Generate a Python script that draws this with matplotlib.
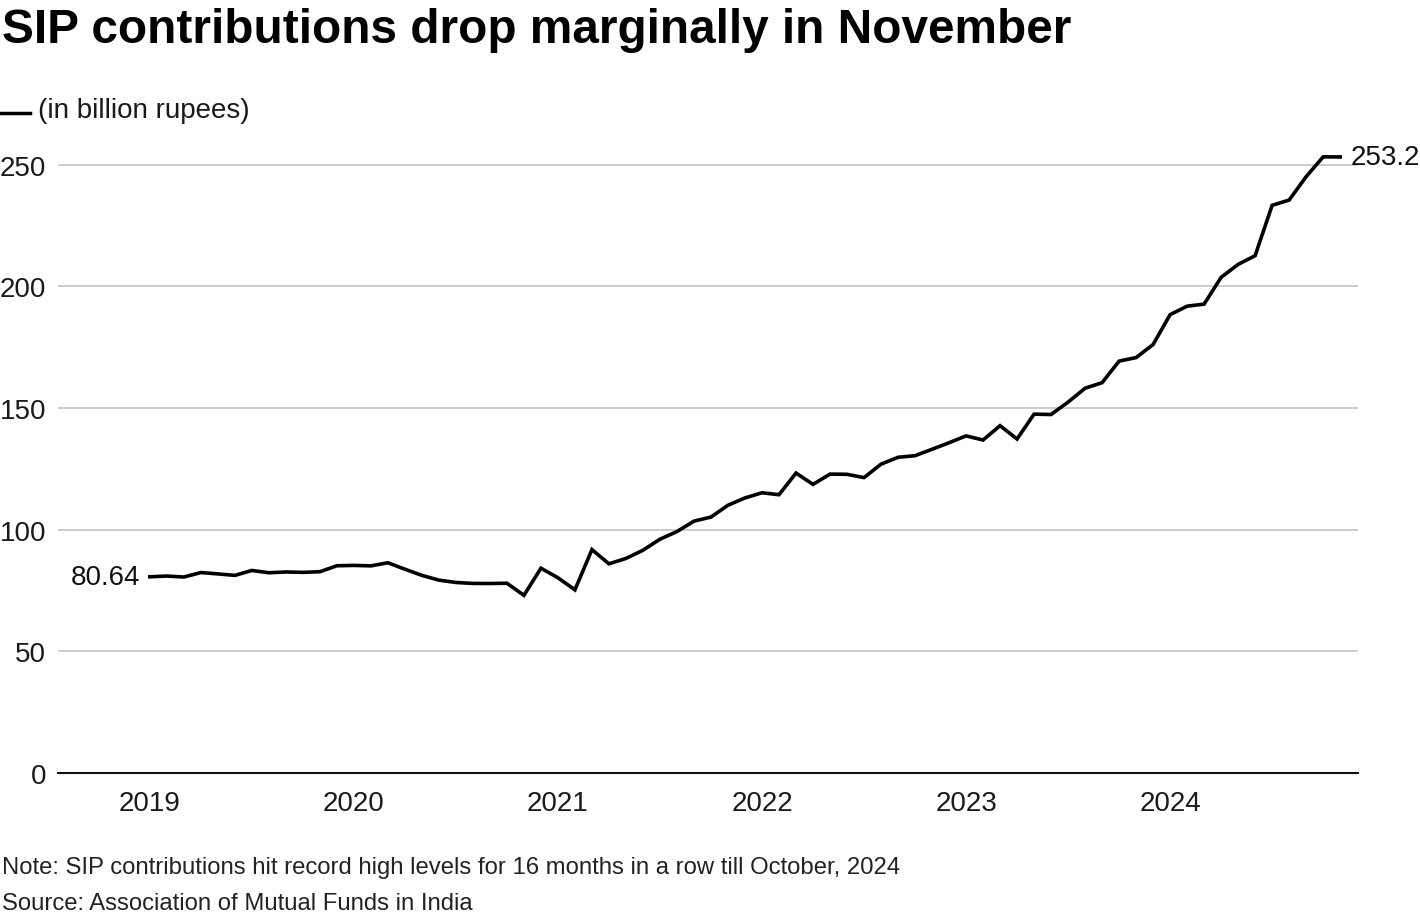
import matplotlib.pyplot as plt
import numpy as np

plt.rcParams['font.family'] = ['Liberation Sans', 'DejaVu Sans']

# monthly SIP contributions, Jan 2019 - Nov 2024 (billion rupees)
sip_2019 = [80.64, 80.95, 80.55, 82.38, 81.83, 81.22, 83.24, 82.31, 82.63, 82.46, 82.73, 85.18]
sip_2020 = [85.32, 85.13, 86.41, 83.76, 81.23, 79.27, 78.31, 77.92, 77.88, 78.00, 73.02, 84.18]
sip_2021 = [80.23, 75.28, 91.82, 85.96, 88.19, 91.56, 96.09, 99.23, 103.51, 105.19, 110.05, 113.05]
sip_2022 = [115.17, 114.38, 123.28, 118.63, 122.86, 122.76, 121.40, 126.93, 129.76, 130.41, 133.06, 135.73]
sip_2023 = [138.56, 136.86, 142.76, 137.28, 147.49, 147.34, 152.45, 158.14, 160.42, 169.28, 170.73, 176.10]
sip_2024 = [188.38, 191.87, 192.71, 203.71, 209.04, 212.62, 233.32, 235.47, 245.09, 253.23, 253.20]

years = ['2019', '2020', '2021', '2022', '2023', '2024']
y_ticks = [0, 50, 100, 150, 200, 250]

values = np.array(sip_2019 + sip_2020 + sip_2021 + sip_2022 + sip_2023 + sip_2024)
months = np.arange(len(values))

W, H = 1420, 920
fig = plt.figure(figsize=(W / 100, H / 100), dpi=100)
ax = fig.add_axes([58 / W, 1 - 774 / H, 1300 / W, (774 - 141.4) / H])

ax.plot(months, values, color='black', lw=2.6, solid_joinstyle='miter', clip_on=False, zorder=3)

ax.set_xlim(-5.4, 71.05)
ax.set_ylim(0, 260)
ax.set_yticks(y_ticks)
ax.set_yticklabels([str(t) for t in y_ticks])
ax.set_xticks(np.arange(0, 72, 12))
ax.set_xticklabels(years)

ax.grid(axis='y', color='#c8c8c8', lw=1.3)
ax.set_axisbelow(True)
for s in ['top', 'right', 'left']:
    ax.spines[s].set_visible(False)
ax.spines['bottom'].set_color('#111111')
ax.spines['bottom'].set_linewidth(1.5)
ax.spines['bottom'].set_zorder(4)

ax.tick_params(axis='y', length=0, pad=8.5, labelsize=20, labelcolor='#1a1a1a')
ax.tick_params(axis='x', length=0, pad=12, labelsize=20, labelcolor='#1a1a1a')

# end labels
ax.annotate(f'{values[0]:.2f}', (months[0], values[0]), xytext=(-10, 0),
            textcoords='offset pixels', ha='right', va='center', fontsize=20, color='#111111')
ax.annotate(f'{values[-1]:.1f}', (months[-1], values[-1]), xytext=(10, 0),
            textcoords='offset pixels', ha='left', va='center', fontsize=20, color='#111111',
            annotation_clip=False)

fig.text(2 / W, 1 - 43 / H, 'SIP contributions drop marginally in November',
         fontsize=34.4, fontweight='bold', ha='left', va='baseline', color='black')

fig.add_artist(plt.Line2D([0, 30 / W], [1 - 114 / H] * 2, color='black', lw=2.5))
fig.text(38 / W, 1 - 118 / H, '(in billion rupees)', fontsize=20,
         ha='left', va='baseline', color='#1a1a1a')

fig.text(2 / W, 1 - 874 / H,
         'Note: SIP contributions hit record high levels for 16 months in a row till October, 2024',
         fontsize=17.2, ha='left', va='baseline', color='#222222')
fig.text(2 / W, 1 - 910 / H, 'Source: Association of Mutual Funds in India',
         fontsize=17.2, ha='left', va='baseline', color='#222222')

fig.savefig('out.png', dpi=100)
